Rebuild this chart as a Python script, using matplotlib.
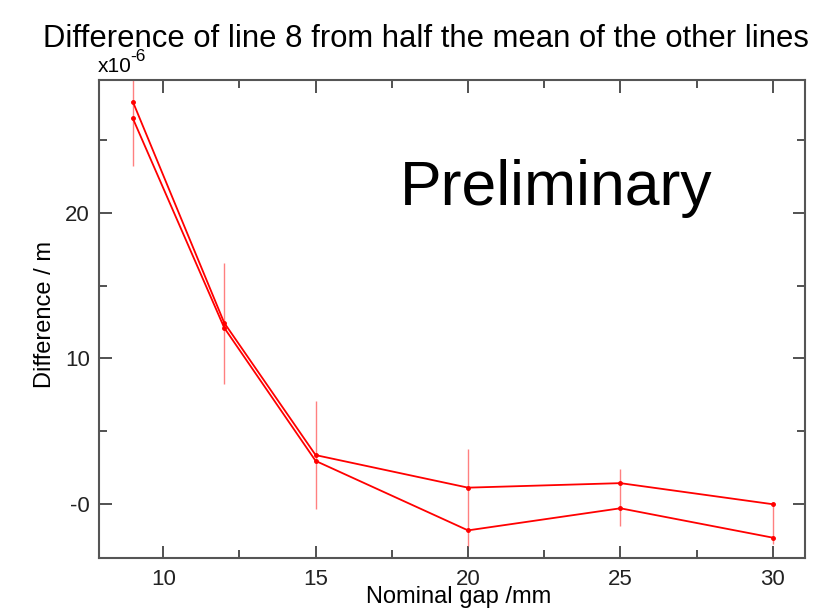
import matplotlib.pyplot as plt
from matplotlib.ticker import MultipleLocator, FixedLocator, FixedFormatter

# nominal gap (mm) and the two difference curves (units of 1e-6 m)
gap = [9, 12, 15, 20, 25, 30]
diff_a = [27.66, 12.44, 3.34, 1.10, 1.41, -0.04]
diff_b = [26.51, 12.10, 2.94, -1.84, -0.32, -2.34]

# error bar extents (bottom, top), same units
err_low = [23.2, 8.23, -0.37, -2.92, -1.54, -2.78]
err_high = [32.0, 16.58, 7.03, 3.79, 2.39, -0.04]

ytick_vals = [0, 10, 20]
ytick_labels = ['-0', '10', '20']

plt.rcParams['font.family'] = ['Liberation Sans', 'DejaVu Sans']

fig = plt.figure(figsize=(8.13, 6.09), dpi=100)
ax = fig.add_axes([99 / 813, 1 - 557.7 / 609, (805 - 99) / 813, (557.7 - 80) / 609])

ax.vlines(gap, err_low, err_high, color='#ff6060', linewidth=1.0, alpha=0.8, zorder=2)
ax.plot(gap, diff_a, color='red', linewidth=1.3, marker='o', markersize=2.5, zorder=3)
ax.plot(gap, diff_b, color='red', linewidth=1.3, marker='o', markersize=2.5, zorder=3)

ax.set_xlim(7.89, 31.06)
ax.set_ylim(-3.72, 29.15)

ax.xaxis.set_major_locator(MultipleLocator(5))
ax.xaxis.set_minor_locator(MultipleLocator(2.5))
ax.yaxis.set_major_locator(FixedLocator(ytick_vals))
ax.yaxis.set_major_formatter(FixedFormatter(ytick_labels))
ax.yaxis.set_minor_locator(MultipleLocator(5))

ax.tick_params(which='both', direction='in', top=True, right=True, color='#333333', width=1.2)
ax.tick_params(which='major', length=9, labelsize=16, labelcolor='#222222')
ax.tick_params(which='minor', length=5.5)
ax.tick_params(axis='x', which='major', pad=8)
ax.tick_params(axis='y', which='major', pad=6.5)

for s in ax.spines.values():
    s.set_color('#555555')
    s.set_linewidth(1.5)

fig.text(426 / 813, 1 - 46.7 / 609, 'Difference of line 8 from half the mean of the other lines',
         ha='center', va='baseline', fontsize=22.3)
fig.text(98 / 813, 1 - 72 / 609, 'x10', ha='left', va='baseline', fontsize=15)
fig.text(130 / 813, 1 - 61 / 609, '-6', ha='left', va='baseline', fontsize=12.5)
fig.text(400 / 813, 1 - 205 / 609, 'Preliminary', ha='left', va='baseline', fontsize=45)
fig.text(459 / 813, 1 - 602.7 / 609, 'Nominal gap /mm', ha='center', va='baseline', fontsize=17)
fig.text(45 / 813, 1 - 314 / 609, 'Difference / m', ha='center', va='center', rotation=90, fontsize=17)

fig.savefig('out.png', dpi=100)
